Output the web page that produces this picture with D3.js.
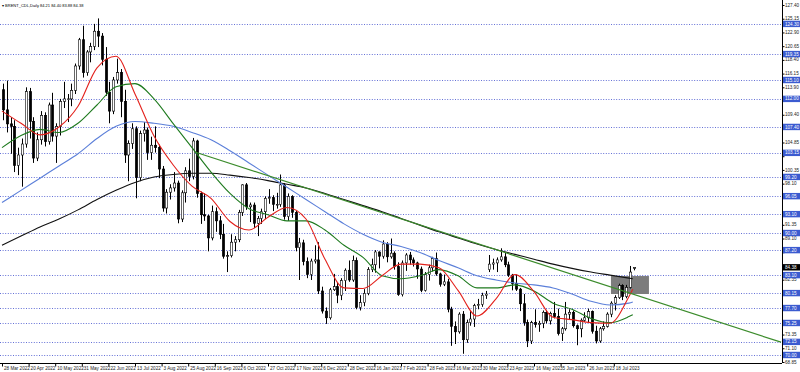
<!DOCTYPE html>
<html>
<head>
<meta charset="utf-8">
<script src="https://cdn.jsdelivr.net/npm/d3@7/dist/d3.min.js"></script>
<style>
  body { margin: 0; background: #fff; }
  svg { display: block; font-family: "Liberation Sans", Arial, sans-serif; }
</style>
</head>
<body>
<svg id="chart" width="800" height="372"></svg>
<script>
// ---- data ----
const title = "BRENT_CDL,Daily  84.21 84.40 83.88 84.38";
const lastPrice = 84.38;

// one candle per 2 bars: [open, high, low, close]
const candles = [
  [113.5,114.5,108.5,110.2],[110.2,115.0,106.5,107.9],[107.9,109.0,103.0,107.5],[107.5,108.5,100.0,101.1],
  [101.1,104.0,99.5,102.8],[102.8,105.5,97.6,104.6],[104.6,113.9,104.0,113.2],[113.2,113.8,105.5,108.3],
  [108.3,109.0,101.5,102.3],[102.3,106.5,101.8,105.3],[105.3,110.0,104.5,109.3],[109.3,109.8,104.2,105.0],
  [105.0,111.4,104.5,111.0],[111.0,113.0,105.0,105.9],[105.9,108.0,101.5,107.5],[107.5,112.0,106.0,111.6],
  [111.6,114.8,110.5,112.0],[112.0,112.8,108.2,112.0],[112.0,114.5,110.8,113.4],[113.4,117.8,112.8,117.4],
  [117.4,122.0,116.8,121.7],[121.7,124.0,115.5,116.3],[116.3,120.0,115.8,119.7],[119.7,121.2,118.0,120.6],
  [120.6,124.3,120.0,123.1],[123.1,125.2,120.5,122.3],[122.3,122.8,117.5,118.5],[118.5,120.5,112.5,113.1],
  [113.1,114.8,108.0,110.0],[110.0,115.6,109.5,115.1],[115.1,118.6,114.5,116.3],[116.3,116.9,109.0,111.6],
  [111.6,113.5,101.5,102.8],[102.8,105.2,98.5,104.7],[104.7,108.0,103.8,107.1],[107.1,107.5,95.7,99.1],
  [99.1,106.8,98.5,106.3],[106.3,108.2,105.0,106.9],[106.9,107.3,102.0,103.2],[103.2,105.8,102.0,104.4],
  [104.4,107.5,103.2,104.0],[104.0,104.5,99.0,100.5],[100.5,101.0,93.5,94.1],[94.1,97.2,93.2,96.7],
  [96.7,98.0,95.5,97.4],[97.4,100.0,96.8,98.2],[98.2,98.6,91.6,92.3],[92.3,97.0,91.8,96.6],
  [96.6,100.8,95.0,100.2],[100.2,102.2,98.5,99.3],[99.3,105.6,98.8,105.1],[105.1,105.3,95.8,96.5],
  [96.5,96.8,91.5,93.0],[93.0,96.5,92.0,92.8],[92.8,93.0,87.0,89.2],[89.2,94.5,88.8,93.5],
  [93.5,94.2,90.2,92.0],[92.0,92.8,89.0,89.8],[89.8,91.5,85.8,86.2],[86.2,87.0,83.6,86.3],
  [86.3,89.8,86.0,88.5],[88.5,89.5,87.0,88.9],[88.9,93.8,88.5,93.4],[93.4,98.0,92.8,97.9],
  [97.9,98.2,93.8,94.3],[94.3,95.0,91.8,94.6],[94.6,95.0,90.8,91.6],[91.6,92.8,89.5,92.4],
  [92.4,94.0,91.5,93.5],[93.5,96.0,92.3,95.7],[95.7,97.2,94.8,95.8],[95.8,96.2,93.6,94.7],
  [94.7,96.6,94.0,94.7],[94.7,99.6,94.3,97.9],[97.9,98.2,92.2,92.7],[92.7,96.5,92.0,96.0],
  [96.0,96.2,92.5,93.4],[93.4,93.6,87.0,87.6],[87.6,89.2,82.3,88.4],[88.4,88.9,84.7,85.3],
  [85.3,86.0,82.6,83.2],[83.2,85.8,82.3,85.4],[85.4,88.0,85.0,85.6],[85.6,88.5,80.0,80.5],
  [80.5,81.2,76.8,77.2],[77.2,77.8,75.1,76.1],[76.1,81.0,75.8,80.7],[80.7,83.3,80.5,81.2],
  [81.2,81.8,78.5,79.8],[79.8,82.6,79.0,82.2],[82.2,84.2,80.5,83.9],[83.9,85.5,82.0,82.3],
  [82.3,86.3,82.0,85.5],[85.5,86.0,77.5,77.8],[77.8,79.8,77.3,78.6],[78.6,80.8,78.0,80.1],
  [80.1,84.4,79.8,84.0],[84.0,85.8,83.6,84.8],[84.8,87.2,83.5,86.9],[86.9,87.0,84.2,86.2],
  [86.2,88.8,85.8,88.2],[88.2,88.5,85.2,86.1],[86.1,89.1,85.8,86.7],[86.7,87.0,84.0,84.5],
  [84.5,85.2,79.7,79.9],[79.9,85.5,79.6,85.1],[85.1,86.7,83.8,86.4],[86.4,86.9,84.8,85.6],
  [85.6,86.0,84.5,85.1],[85.1,85.3,82.5,84.1],[84.1,84.5,80.3,80.6],[80.6,83.6,80.4,83.2],
  [83.2,84.8,82.2,84.3],[84.3,86.1,83.7,85.8],[85.8,86.8,83.0,83.3],[83.3,83.5,81.2,81.6],
  [81.6,83.2,81.3,82.0],[82.0,82.5,77.0,77.5],[77.5,77.9,71.5,74.7],[74.7,75.5,71.8,73.8],
  [73.8,77.0,73.5,76.7],[76.7,77.2,70.2,72.5],[72.5,75.8,72.0,75.3],[75.3,77.3,74.8,75.9],
  [75.9,78.4,74.6,78.1],[78.1,79.2,77.5,78.3],[78.3,80.2,77.9,79.8],[79.8,80.5,79.2,80.0],
  [84.0,86.4,83.6,84.9],[84.9,85.8,84.0,85.1],[85.1,86.0,83.6,85.6],[85.6,87.5,85.3,86.1],
  [86.1,86.8,84.4,84.8],[84.8,85.3,82.8,83.1],[83.1,83.3,80.6,81.7],[81.7,83.2,80.5,80.8],
  [80.8,81.0,77.2,78.4],[78.4,80.0,74.8,75.3],[75.3,75.8,71.3,72.3],[72.3,75.6,71.8,75.3],
  [75.3,77.5,74.5,75.0],[75.0,75.6,73.8,75.2],[75.2,77.3,74.4,77.0],[77.0,77.4,75.2,75.6],
  [75.6,77.1,75.0,76.8],[76.8,78.7,76.0,76.3],[76.3,77.6,73.2,73.5],[73.5,74.6,72.3,74.3],
  [74.3,78.7,74.0,76.7],[76.7,77.5,75.8,77.0],[77.0,77.3,74.5,74.8],[74.8,75.0,71.6,74.3],
  [74.3,76.0,72.9,75.7],[75.7,77.0,75.4,76.1],[76.1,77.6,75.4,77.1],[77.1,77.3,73.5,73.9],
  [73.9,74.8,71.9,72.3],[72.3,74.6,72.0,74.3],[74.3,75.5,74.0,74.7],[74.7,77.0,74.5,76.7],
  [76.7,78.8,76.2,78.5],[78.5,79.8,77.3,79.4],[79.4,81.7,79.2,81.4],[81.4,81.6,79.0,79.6],
  [79.6,81.5,79.3,81.1],[81.1,84.6,80.9,83.6],[84.21,84.40,83.88,84.38]
];
const barsPerCandle = 2;

// moving averages, sampled every 10 bars
const maBars = [0,10,20,30,40,50,60,70,80,90,100,110,120,130,140,150,160,170,180,190,
                200,210,220,230,240,250,260,270,280,290,300,310,320,330,332];
const maRed   = [110,108,106.1,107.4,110.8,117.1,119.0,112.8,105.9,101.2,97.7,95.7,91.9,90.5,92.6,94.2,92.3,85.7,81.0,80.9,
                 83.0,84.9,84.9,84.3,80.6,76.4,79.2,83.2,80.4,76.2,75.8,75.3,75.2,79.6,80.8];
const maGreen = [104,106,107,106.5,108,111,114,114.5,112,108,104,100,96.5,94,93,92,92,90.5,88,86,
                 83,82.5,83,84,83,81,81,81.5,80.5,78.5,77.5,76,75.3,76.3,76.6];
const maBlue  = [95,97,99,101,103,105.5,107.5,108.3,108,107.5,106.5,105.3,103.5,101.5,99.5,97.5,95.5,93.5,91.5,89.8,
                 88.5,87.8,86.8,85.5,84.3,83,82.3,81.8,81.5,81,80,78.8,78.2,78.5,78.7];
const maBlack = [88,89.5,91,92.3,93.8,95.5,97,98.3,99.2,99.6,99.8,99.8,99.5,99.1,98.6,98,97.4,96.5,95.5,94.5,
                 93.5,92.4,91.3,90.2,89.2,88.2,87.3,86.5,85.7,84.9,84.2,83.6,83.1,82.6,82.5];

// horizontal price levels (dotted lines with blue tags)
const levels = [124.30,119.35,115.10,112.00,107.40,103.15,99.20,96.05,93.10,90.00,87.20,83.10,80.15,77.70,75.25,72.15,70.00];

// trend line and grey zone (bar index, price)
const trendBars = [101.5, 410];
const trendPrices = [103.3, 72.1];
const zoneBars = [320.5, 340.5];
const zonePrices = [82.95, 80.0];

const priceTicks = [127.40,125.15,122.90,120.65,118.40,116.15,113.90,111.65,109.40,107.15,104.85,102.60,100.35,
                    98.10,95.85,93.60,91.35,89.10,86.85,84.60,82.35,80.10,77.85,75.60,73.35,71.10,68.85];
const dateBars = [0,14,28,42,56,70,84,98,112,126,140,154,168,182,196,210,224,238,252,266,280,294,308,322];
const dateLabels = ["28 Mar 2022","20 Apr 2022","10 May 2022","31 May 2022","22 Jun 2022","13 Jul 2022",
  "3 Aug 2022","25 Aug 2022","16 Sep 2022","6 Oct 2022","27 Oct 2022","17 Nov 2022","6 Dec 2022",
  "28 Dec 2022","16 Jan 2023","7 Feb 2023","28 Feb 2023","16 Mar 2023","30 Mar 2023","23 Apr 2023",
  "16 May 2023","5 Jun 2023","26 Jun 2023","18 Jul 2023"];

// ---- layout ----
const plotRight = 782, plotBottom = 363;
// the browser will not go below a minimum font size, so draw at 10px and scale down
const baseFont = 10, textScale = 0.46;
const fmt = d3.format(".2f");

const x = d3.scaleLinear().domain([0, 410]).range([2, 781]);
const y = d3.scaleLinear().domain([68.85, 127.40]).range([362, 5]);

const svg = d3.select("#chart");

function tinyText(parent, tx, ty, str, fill, scale) {
  const g = parent.append("g").attr("transform", `translate(${tx},${ty}) scale(${scale || textScale})`);
  g.append("text")
    .attr("font-size", baseFont)
    .attr("fill", fill)
    .text(str);
  return g;
}

// price levels
svg.append("g")
  .selectAll("line")
  .data(levels)
  .join("line")
  .attr("x1", 0)
  .attr("x2", plotRight)
  .attr("y1", d => Math.round(y(d)) + 0.5)
  .attr("y2", d => Math.round(y(d)) + 0.5)
  .attr("stroke", "#6470d6")
  .attr("stroke-width", 1)
  .attr("stroke-dasharray", "1,1.6");

// grey zone
svg.append("rect")
  .attr("x", x(zoneBars[0]))
  .attr("y", y(zonePrices[0]))
  .attr("width", x(zoneBars[1]) - x(zoneBars[0]))
  .attr("height", y(zonePrices[1]) - y(zonePrices[0]))
  .attr("fill", "#7c7c7c");

// candles
const cx = (d, i) => Math.round(x(i * barsPerCandle + 0.5)) + 0.5;
const cg = svg.append("g");
cg.selectAll("line")
  .data(candles)
  .join("line")
  .attr("x1", cx)
  .attr("x2", cx)
  .attr("y1", d => y(d[1]))
  .attr("y2", d => y(d[2]))
  .attr("stroke", "#000")
  .attr("stroke-width", 1);
cg.selectAll("rect")
  .data(candles)
  .join("rect")
  .attr("x", (d, i) => cx(d, i) - 1.2)
  .attr("width", 2.4)
  .attr("y", d => y(Math.max(d[0], d[3])))
  .attr("height", d => Math.max(0.8, Math.abs(y(d[0]) - y(d[3]))))
  .attr("fill", d => d[3] >= d[0] ? "#fff" : "#000")
  .attr("stroke", "#000")
  .attr("stroke-width", 0.6);

// moving averages
const maLine = d3.line()
  .x((d, i) => x(maBars[i]))
  .y(d => y(d))
  .curve(d3.curveMonotoneX);
[[maBlack, "#111111"], [maBlue, "#5b7fd9"], [maGreen, "#1e7a1e"], [maRed, "#e3211c"]].forEach(([s, c]) => {
  svg.append("path")
    .attr("d", maLine(s))
    .attr("fill", "none")
    .attr("stroke", c)
    .attr("stroke-width", 1.1);
});

// trend line
svg.append("line")
  .attr("x1", x(trendBars[0]))
  .attr("y1", y(trendPrices[0]))
  .attr("x2", x(trendBars[1]))
  .attr("y2", y(trendPrices[1]))
  .attr("stroke", "#3c8c2c")
  .attr("stroke-width", 1.2);

// frame
svg.append("line")
  .attr("x1", plotRight + 0.5).attr("x2", plotRight + 0.5)
  .attr("y1", 0).attr("y2", plotBottom)
  .attr("stroke", "#000");
svg.append("line")
  .attr("x1", 0).attr("x2", plotRight)
  .attr("y1", plotBottom + 0.5).attr("y2", plotBottom + 0.5)
  .attr("stroke", "#000");

// price axis: tick marks from d3, labels drawn small
const tagged = levels.concat([lastPrice]);
const yAxis = svg.append("g")
  .attr("transform", `translate(${plotRight + 0.5},0)`)
  .call(d3.axisRight(y).tickValues(priceTicks).tickFormat("").tickSize(2));
yAxis.select(".domain").remove();
const yLabels = svg.append("g");
priceTicks
  .filter(t => !tagged.some(v => Math.abs(y(v) - y(t)) < 4.5))
  .forEach(t => tinyText(yLabels, plotRight + 3, y(t) + 1.6, fmt(t), "#222"));

// level tags
const tags = svg.append("g");
tagged.forEach((v, i) => {
  const isLast = i === tagged.length - 1;
  tags.append("rect")
    .attr("x", plotRight + 1)
    .attr("y", y(v) - 3.2)
    .attr("width", 800 - plotRight - 1)
    .attr("height", 6.4)
    .attr("fill", isLast ? "#000" : "#3b5bd0");
  tinyText(tags, plotRight + 3, y(v) + 1.6, fmt(v), "#fff");
});

// date axis
const xAxis = svg.append("g")
  .attr("transform", `translate(0,${plotBottom + 0.5})`)
  .call(d3.axisBottom(x).tickValues(dateBars).tickFormat("").tickSize(3));
xAxis.select(".domain").remove();
const xLabels = svg.append("g");
dateBars.forEach((b, i) => tinyText(xLabels, x(b) + 2, plotBottom + 6.5, dateLabels[i], "#222"));

// title
tinyText(svg, 2, 7, "\u25BE " + title, "#000", 0.4);
</script>
</body>
</html>
